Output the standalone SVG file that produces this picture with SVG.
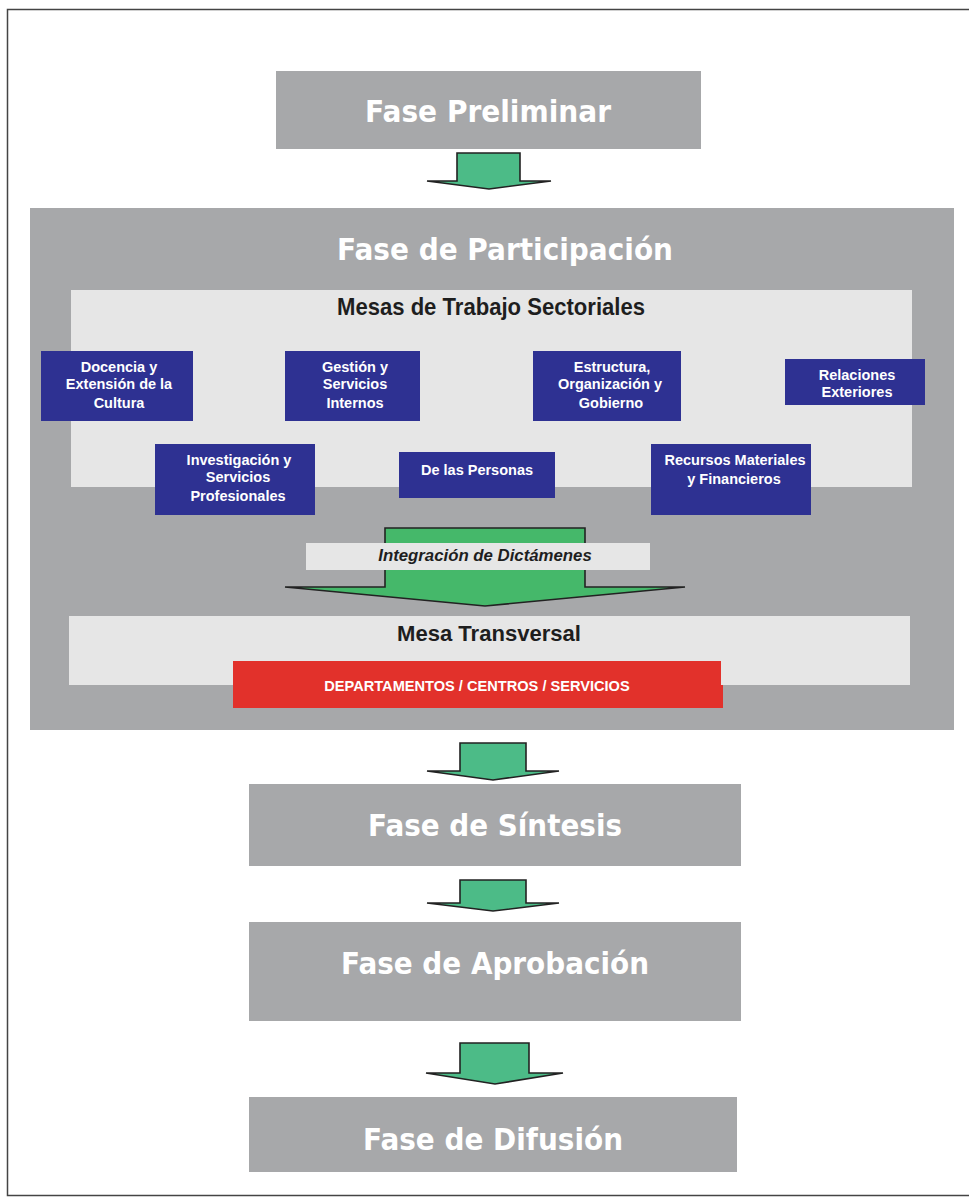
<svg xmlns="http://www.w3.org/2000/svg" width="969" height="1199" viewBox="0 0 969 1199">
<style>
.phase{fill:#a7a8aa}
.ptxt{font-family:"DejaVu Sans",Verdana,sans-serif;font-weight:bold;fill:#ffffff;text-anchor:middle}
.panel{fill:#e6e6e6}
.ttl{font-family:"Liberation Sans",Arial,sans-serif;font-weight:bold;fill:#1e1e1e;text-anchor:middle}
.blue{fill:#2e3192}
.btxt{font-family:"Liberation Sans",Arial,sans-serif;font-weight:bold;fill:#ffffff;font-size:14.5px;text-anchor:middle}
.arr{fill:#4cbb87;stroke:#222;stroke-width:1.6;stroke-linejoin:miter}
</style>
<rect x="0" y="0" width="969" height="1199" fill="#ffffff"/>
<rect x="7.5" y="9.5" width="975" height="1186" fill="none" stroke="#444" stroke-width="1.5"/>

<g id="fase-preliminar">
<rect class="phase" x="276" y="71" width="425" height="78"/>
<text class="ptxt" x="488" y="122" font-size="30" textLength="246" lengthAdjust="spacingAndGlyphs">Fase Preliminar</text>
</g>

<g id="fase-participacion">
<rect class="phase" x="30" y="208" width="924" height="522"/>
<text class="ptxt" x="505" y="260" font-size="31" textLength="336" lengthAdjust="spacingAndGlyphs">Fase de Participación</text>
</g>

<g id="mesas-sectoriales">
<rect class="panel" x="71" y="290" width="841" height="197"/>
<text class="ttl" x="491" y="315" font-size="24" textLength="308" lengthAdjust="spacingAndGlyphs">Mesas de Trabajo Sectoriales</text>
</g>

<g id="docencia">
<rect class="blue" x="41" y="351" width="152" height="70"/>
<text class="btxt" x="119" y="372">Docencia y</text>
<text class="btxt" x="119" y="389">Extensión de la</text>
<text class="btxt" x="119" y="408">Cultura</text>
</g>
<g id="gestion">
<rect class="blue" x="285" y="351" width="135" height="70"/>
<text class="btxt" x="355" y="372">Gestión y</text>
<text class="btxt" x="355" y="389">Servicios</text>
<text class="btxt" x="355" y="408">Internos</text>
</g>
<g id="estructura">
<rect class="blue" x="533" y="351" width="148" height="70"/>
<text class="btxt" x="612" y="372">Estructura,</text>
<text class="btxt" x="610" y="389">Organización y</text>
<text class="btxt" x="611" y="408">Gobierno</text>
</g>
<g id="relaciones">
<rect class="blue" x="785" y="359" width="140" height="46"/>
<text class="btxt" x="857" y="380">Relaciones</text>
<text class="btxt" x="857" y="397">Exteriores</text>
</g>
<g id="investigacion">
<rect class="blue" x="155" y="444" width="160" height="71"/>
<text class="btxt" x="239" y="465">Investigación y</text>
<text class="btxt" x="238" y="482">Servicios</text>
<text class="btxt" x="238" y="501">Profesionales</text>
</g>
<g id="personas">
<rect class="blue" x="399" y="452" width="156" height="46"/>
<text class="btxt" x="477" y="475">De las Personas</text>
</g>
<g id="recursos">
<rect class="blue" x="651" y="444" width="160" height="71"/>
<text class="btxt" x="735" y="465">Recursos Materiales</text>
<text class="btxt" x="734" y="484">y Financieros</text>
</g>

<g id="connectors">
<polygon class="arr" points="457,153 520,153 520,181 551,181 489,189 427,181 457,181"/>
<polygon fill="#45b86a" stroke="#222" stroke-width="1.6" points="385,528 585,528 585,587 685,587 485,606 285,587 385,587"/>
<polygon class="arr" points="460,743 526,743 526,771 559,771 493,780 427,771 460,771"/>
<polygon class="arr" points="460,880 526,880 526,903 559,903 493,911 427,903 460,903"/>
<polygon class="arr" points="460,1043 529,1043 529,1073 563,1073 495,1084 426,1073 460,1073"/>
</g>

<g id="integracion">
<rect class="panel" x="306" y="543" width="344" height="27"/>
<text x="485" y="561" font-family="'Liberation Sans',Arial,sans-serif" font-weight="bold" font-style="italic" font-size="16.8" fill="#1e1e1e" text-anchor="middle">Integración de Dictámenes</text>
</g>

<g id="mesa-transversal">
<rect class="panel" x="69" y="616" width="841" height="69"/>
<text class="ttl" x="489" y="641" font-size="22" textLength="184" lengthAdjust="spacingAndGlyphs">Mesa Transversal</text>
</g>

<g id="departamentos">
<polygon fill="#e2312b" points="233,661 721,661 721,685 723,685 723,708 233,708"/>
<text x="477" y="691" font-family="'Liberation Sans',Arial,sans-serif" font-weight="bold" font-size="14.6" fill="#ffffff" text-anchor="middle">DEPARTAMENTOS / CENTROS / SERVICIOS</text>
</g>

<g id="fase-sintesis">
<rect class="phase" x="249" y="784" width="492" height="82"/>
<text class="ptxt" x="495" y="836" font-size="30" textLength="254" lengthAdjust="spacingAndGlyphs">Fase de Síntesis</text>
</g>

<g id="fase-aprobacion">
<rect class="phase" x="249" y="922" width="492" height="99"/>
<text class="ptxt" x="495" y="974" font-size="30" textLength="308" lengthAdjust="spacingAndGlyphs">Fase de Aprobación</text>
</g>

<g id="fase-difusion">
<rect class="phase" x="249" y="1097" width="488" height="75"/>
<text class="ptxt" x="493" y="1150" font-size="30" textLength="260" lengthAdjust="spacingAndGlyphs">Fase de Difusión</text>
</g>
</svg>
